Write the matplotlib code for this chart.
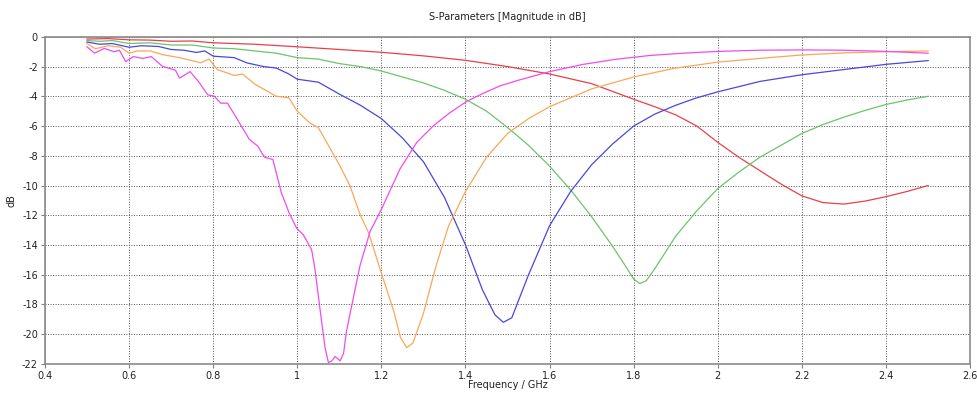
import matplotlib
matplotlib.use("Agg")
import matplotlib.pyplot as plt

# S11 traces (frequency in GHz, magnitude in dB)
red_f = [0.5, 0.55, 0.6, 0.65, 0.7, 0.75, 0.8, 0.9, 1.0, 1.1, 1.2, 1.3, 1.4, 1.5, 1.6, 1.7, 1.8,
         1.85, 1.9, 1.95, 2.0, 2.05, 2.1, 2.15, 2.2, 2.25, 2.3, 2.35, 2.4, 2.45, 2.5]
red_db = [-0.15, -0.12, -0.2, -0.22, -0.3, -0.28, -0.4, -0.5, -0.67, -0.85, -1.04, -1.28, -1.58,
          -2.0, -2.5, -3.15, -4.2, -4.7, -5.25, -6.0, -7.1, -8.1, -9.0, -9.9, -10.7, -11.15,
          -11.25, -11.05, -10.75, -10.4, -10.0]

green_f = [0.5, 0.53, 0.56, 0.6, 0.65, 0.7, 0.75, 0.8, 0.85, 0.9, 0.95, 1.0, 1.05, 1.1, 1.15, 1.2,
           1.25, 1.3, 1.35, 1.4, 1.45, 1.5, 1.55, 1.6, 1.65, 1.7, 1.75, 1.78, 1.8, 1.815, 1.83,
           1.85, 1.9, 1.95, 2.0, 2.05, 2.1, 2.15, 2.2, 2.25, 2.3, 2.35, 2.4, 2.45, 2.5]
green_db = [-0.25, -0.3, -0.25, -0.45, -0.4, -0.55, -0.55, -0.75, -0.8, -0.95, -1.1, -1.4, -1.5,
            -1.8, -2.0, -2.3, -2.7, -3.1, -3.6, -4.2, -5.0, -6.1, -7.3, -8.7, -10.3, -12.1, -14.1,
            -15.4, -16.3, -16.6, -16.4, -15.6, -13.4, -11.7, -10.2, -9.1, -8.1, -7.3, -6.5, -5.9,
            -5.4, -4.95, -4.55, -4.25, -4.0]

blue_f = [0.5, 0.53, 0.56, 0.6, 0.63, 0.67, 0.7, 0.73, 0.76, 0.78, 0.8, 0.85, 0.88, 0.92, 0.95,
          0.98, 1.0, 1.05, 1.1, 1.15, 1.2, 1.25, 1.3, 1.35, 1.4, 1.44, 1.47, 1.49, 1.51, 1.55, 1.6,
          1.65, 1.7, 1.75, 1.8, 1.85, 1.9, 1.95, 2.0, 2.1, 2.2, 2.3, 2.4, 2.5]
blue_db = [-0.35, -0.5, -0.45, -0.7, -0.6, -0.65, -0.85, -0.9, -1.05, -0.95, -1.3, -1.4, -1.75,
           -2.0, -2.1, -2.5, -2.85, -3.05, -3.85, -4.6, -5.5, -6.8, -8.4, -10.8, -14.0, -17.0,
           -18.7, -19.2, -18.9, -16.0, -12.7, -10.4, -8.6, -7.2, -6.0, -5.2, -4.6, -4.1, -3.7,
           -3.0, -2.55, -2.2, -1.85, -1.6]

orange_f = [0.5, 0.52, 0.55, 0.58, 0.6, 0.62, 0.65, 0.68, 0.72, 0.75, 0.77, 0.79, 0.81, 0.85,
            0.87, 0.9, 0.95, 0.98, 1.0, 1.03, 1.05, 1.08, 1.1, 1.125, 1.15, 1.17, 1.2, 1.23,
            1.245, 1.26, 1.275, 1.3, 1.33, 1.36, 1.4, 1.45, 1.5, 1.55, 1.6, 1.7, 1.8, 1.9, 2.0,
            2.1, 2.2, 2.3, 2.4, 2.5]
orange_db = [-0.45, -0.8, -0.6, -0.7, -1.1, -0.95, -0.95, -1.2, -1.4, -1.6, -1.75, -1.5, -2.2,
             -2.6, -2.5, -3.2, -4.0, -4.1, -5.0, -5.8, -6.1, -7.6, -8.6, -10.0, -12.0, -13.2,
             -15.9, -18.5, -20.2, -20.9, -20.6, -18.6, -15.4, -12.7, -10.4, -8.1, -6.5, -5.5,
             -4.7, -3.5, -2.7, -2.1, -1.7, -1.45, -1.22, -1.08, -1.0, -0.95]

magenta_f = [0.5, 0.518, 0.541, 0.565, 0.577, 0.592, 0.61, 0.633, 0.653, 0.68, 0.71, 0.72, 0.745,
             0.765, 0.787, 0.803, 0.818, 0.834, 0.858, 0.886, 0.906, 0.922, 0.942, 0.962, 0.98,
             0.999, 1.014, 1.034, 1.042, 1.054, 1.066, 1.074, 1.082, 1.09, 1.102, 1.11, 1.117,
             1.133, 1.149, 1.173, 1.2, 1.244, 1.284, 1.323, 1.363, 1.403, 1.442, 1.482, 1.522,
             1.6, 1.68, 1.76, 1.84, 1.918, 2.0, 2.1, 2.2, 2.3, 2.4, 2.5]
magenta_db = [-0.67, -1.1, -0.78, -1.0, -0.9, -1.67, -1.33, -1.45, -1.33, -2.0, -2.23, -2.78,
              -2.34, -3.0, -3.9, -4.0, -4.46, -4.46, -5.57, -6.9, -7.35, -8.1, -8.25, -10.47,
              -11.8, -12.9, -13.3, -14.3, -15.6, -18.3, -20.9, -21.9, -21.8, -21.5, -21.8, -21.3,
              -19.8, -17.6, -15.4, -13.1, -11.6, -8.9, -7.1, -6.0, -5.1, -4.34, -3.8, -3.3, -2.95,
              -2.34, -1.85, -1.5, -1.25, -1.1, -0.98, -0.9, -0.88, -0.9, -0.98, -1.1]

x_ticks = [0.4, 0.6, 0.8, 1.0, 1.2, 1.4, 1.6, 1.8, 2.0, 2.2, 2.4, 2.6]
x_labels = ["0.4", "0.6", "0.8", "1", "1.2", "1.4", "1.6", "1.8", "2", "2.2", "2.4", "2.6"]
y_ticks = list(range(0, -23, -2))

fig = plt.figure(figsize=(9.77, 3.96), dpi=100)
ax = fig.add_axes([0.046, 0.081, 0.947, 0.826])

ax.plot(red_f, red_db, color="#e8404a", lw=0.9)
ax.plot(green_f, green_db, color="#6cc46c", lw=0.9)
ax.plot(blue_f, blue_db, color="#4848d8", lw=0.9)
ax.plot(orange_f, orange_db, color="#f8a858", lw=0.9)
ax.plot(magenta_f, magenta_db, color="#ee4cee", lw=0.9)

ax.set_xlim(0.4, 2.6)
ax.set_ylim(-22, 0)
ax.set_xticks(x_ticks)
ax.set_xticklabels(x_labels)
ax.set_yticks(y_ticks)
ax.set_yticklabels([str(v) for v in y_ticks])
ax.grid(True, color="#555555", linestyle=(0, (1, 1.6)), linewidth=0.7)
ax.tick_params(labelsize=7, length=3, width=0.8, color="#808080", labelcolor="#222222", pad=2)
for s in ax.spines.values():
    s.set_color("#8a8a8a")
    s.set_linewidth(1.2)

ax.set_title("S-Parameters [Magnitude in dB]", fontsize=7, color="#222222", pad=12)
ax.set_xlabel("Frequency / GHz", fontsize=7, color="#222222")
ax.set_ylabel("dB", fontsize=7, color="#222222")
ax.xaxis.set_label_coords(0.5, -0.05)
ax.yaxis.set_label_coords(-0.031, 0.5)

fig.savefig("out.png", dpi=100)
